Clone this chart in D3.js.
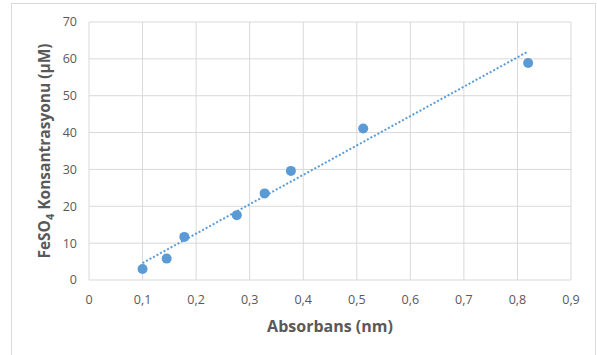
<!DOCTYPE html>
<html><head><meta charset="utf-8">
<script src="https://cdn.jsdelivr.net/npm/d3@7"></script>
<style>body{margin:0;background:#fff}svg{display:block}</style>
</head><body>
<svg id="c" width="597" height="355"></svg>
<script>
const absorbans = [0.1, 0.145, 0.178, 0.276, 0.328, 0.377, 0.512, 0.820];
const konsantrasyon = [3.0, 5.8, 11.7, 17.6, 23.5, 29.6, 41.1, 58.9];
const xTicks = [0, 0.1, 0.2, 0.3, 0.4, 0.5, 0.6, 0.7, 0.8, 0.9];
const yTicks = [0, 10, 20, 30, 40, 50, 60, 70];

const svg = d3.select("#c");
const font = "'Open Sans', 'Liberation Sans', sans-serif";
const x = d3.scaleLinear().domain([0, 0.9]).range([89, 571]);
const y = d3.scaleLinear().domain([0, 70]).range([280, 22]);

svg.append("rect").attr("x", 11.5).attr("y", 3.5).attr("width", 584).attr("height", 360)
  .attr("fill", "#fff").attr("stroke", "#d9d9d9");

// grid
svg.append("g").selectAll("line").data(xTicks).join("line")
  .attr("x1", d => x(d)).attr("x2", d => x(d)).attr("y1", y(0)).attr("y2", y(70))
  .attr("stroke", "#d9d9d9").attr("stroke-width", 1);
svg.append("g").selectAll("line").data(yTicks).join("line")
  .attr("x1", x(0)).attr("x2", x(0.9)).attr("y1", d => y(d)).attr("y2", d => y(d))
  .attr("stroke", "#d9d9d9").attr("stroke-width", 1);

const fmt = d => d3.format(".1~f")(d).replace(".", ",");
// x tick labels
svg.append("g").selectAll("text").data(xTicks).join("text")
  .attr("x", d => x(d)).attr("y", 304).attr("text-anchor", "middle")
  .attr("font-family", font).attr("font-size", 12.5).attr("fill", "#595959")
  .text(fmt);
// y tick labels
svg.append("g").selectAll("text").data(yTicks).join("text")
  .attr("x", 77).attr("y", d => y(d)).attr("dy", "0.35em").attr("text-anchor", "end")
  .attr("font-family", font).attr("font-size", 12.5).attr("fill", "#595959")
  .text(d => d);

// trendline (least squares)
const n = absorbans.length;
const mx = d3.mean(absorbans), my = d3.mean(konsantrasyon);
let sxy = 0, sxx = 0;
for (let i = 0; i < n; i++) { sxy += (absorbans[i]-mx)*(konsantrasyon[i]-my); sxx += (absorbans[i]-mx)**2; }
const slope = sxy / sxx, icpt = my - slope * mx;
const x0 = d3.min(absorbans), x1 = d3.max(absorbans);
svg.append("line")
  .attr("x1", x(x0)).attr("y1", y(icpt + slope*x0))
  .attr("x2", x(x1)).attr("y2", y(icpt + slope*x1))
  .attr("stroke", "#5b9bd5").attr("stroke-width", 2).attr("stroke-dasharray", "2,2");

// points
svg.append("g").selectAll("circle").data(absorbans).join("circle")
  .attr("cx", d => x(d)).attr("cy", (d, i) => y(konsantrasyon[i])).attr("r", 5)
  .attr("fill", "#5b9bd5");

// axis titles
svg.append("text").attr("x", 330).attr("y", 332).attr("text-anchor", "middle")
  .attr("font-family", font).attr("font-size", 16).attr("font-weight", "bold").attr("fill", "#595959")
  .text("Absorbans (nm)");
const yt = svg.append("text").attr("transform", "translate(50,151) rotate(-90)")
  .attr("text-anchor", "middle")
  .attr("font-family", font).attr("font-size", 15.5).attr("font-weight", "bold").attr("fill", "#595959");
yt.append("tspan").text("FeSO");
yt.append("tspan").attr("font-size", 11).attr("dy", 4).text("4");
yt.append("tspan").attr("dy", -4).text(" Konsantrasyonu (μM)");
</script>
</body></html>
